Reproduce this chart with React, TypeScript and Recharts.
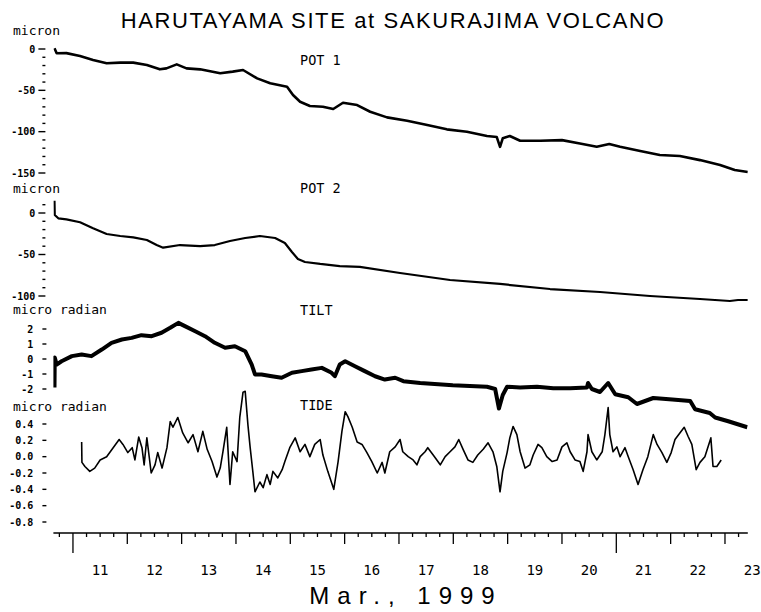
import React from "react";
import { LineChart, Line, XAxis, YAxis } from "recharts";

document.body.style.margin = "0";

const W = 761;
const H = 612;
const X_DOMAIN: [number, number] = [10.64, 23.42];
const PLOT_LEFT = 53.4;
const PLOT_RIGHT = 13.2;
const X_AXIS_H = 60;
const DAY_PX = (W - PLOT_LEFT - PLOT_RIGHT) / (X_DOMAIN[1] - X_DOMAIN[0]);

// days of March 1999
const DAY_LABELS = [11, 12, 13, 14, 15, 16, 17, 18, 19, 20, 21, 22, 23];

// POT 1 (micron)
const POT1_T = [10.66, 10.7, 10.88, 11.13, 11.37, 11.62, 11.87, 12.11, 12.36, 12.6, 12.72, 12.91, 13.09, 13.34, 13.71, 13.94, 14.13, 14.39, 14.63, 14.94, 15.05, 15.18, 15.36, 15.6, 15.79, 15.97, 16.23, 16.47, 16.78, 17.15, 17.52, 17.88, 18.25, 18.62, 18.8, 18.86, 18.91, 19.04, 19.23, 19.6, 20.0, 20.33, 20.64, 20.87, 21.07, 21.44, 21.8, 22.17, 22.54, 22.91, 23.18, 23.42];
const POT1_V = [0.8, -5.2, -5, -8.5, -13.3, -17.3, -16.5, -16.5, -19.4, -24.6, -23.4, -18.6, -23.4, -24.6, -29.4, -27.4, -25.4, -35.5, -41.5, -45.6, -55.7, -63.8, -69, -69.9, -72.6, -65, -67.8, -75.9, -82.7, -86.8, -92, -97.2, -100.1, -105.3, -106.5, -118.3, -108, -105.3, -111, -111, -110.2, -114.2, -118.3, -115, -118.3, -123.5, -128.3, -129.5, -134.4, -140.4, -146.4, -148.9];

// POT 2 (micron)
const POT2_T = [10.66, 10.665, 10.73, 10.88, 11.13, 11.37, 11.62, 11.87, 12.11, 12.36, 12.54, 12.66, 12.97, 13.34, 13.61, 13.89, 14.17, 14.44, 14.72, 14.9, 15.03, 15.14, 15.27, 15.55, 15.91, 16.28, 17.02, 17.94, 18.86, 19.78, 20.7, 21.62, 22.54, 23.09, 23.24, 23.42];
const POT2_V = [14.8, -2.4, -6.4, -7.6, -11.2, -18.5, -25.3, -27.7, -29.3, -32.5, -38.6, -41.8, -38.6, -39.8, -38.6, -33.7, -30.1, -27.7, -30.1, -36.1, -47, -55.4, -59, -61.4, -63.9, -65, -72.3, -80.7, -85.5, -91.6, -95.2, -100, -103.6, -106, -104.8, -104.8];

// TILT (micro radian)
const TILT_T = [10.66, 10.665, 10.7, 10.79, 10.98, 11.16, 11.34, 11.53, 11.71, 11.9, 12.08, 12.26, 12.45, 12.63, 12.79, 12.94, 13.06, 13.25, 13.43, 13.61, 13.8, 13.98, 14.17, 14.29, 14.35, 14.47, 14.66, 14.84, 15.03, 15.21, 15.39, 15.58, 15.76, 15.82, 15.91, 16.01, 16.19, 16.37, 16.56, 16.74, 16.93, 17.08, 17.39, 17.99, 18.62, 18.77, 18.84, 18.91, 18.99, 19.23, 19.54, 19.84, 20.15, 20.46, 20.48, 20.55, 20.7, 20.85, 20.98, 21.22, 21.38, 21.68, 22.03, 22.36, 22.45, 22.72, 22.82, 23.06, 23.41];
const TILT_V = [-1.9, 0.1, -0.37, -0.15, 0.19, 0.3, 0.19, 0.63, 1.08, 1.3, 1.41, 1.59, 1.52, 1.75, 2.08, 2.41, 2.19, 1.85, 1.52, 1.08, 0.75, 0.85, 0.52, -0.37, -1.03, -1.03, -1.15, -1.25, -0.92, -0.81, -0.7, -0.59, -0.92, -1.15, -0.37, -0.15, -0.48, -0.81, -1.15, -1.37, -1.25, -1.48, -1.6, -1.75, -1.85, -2.0, -3.3, -2.4, -1.85, -1.9, -1.85, -1.95, -1.95, -1.9, -1.6, -2.0, -2.2, -1.6, -2.35, -2.55, -3.0, -2.6, -2.7, -2.8, -3.35, -3.6, -3.9, -4.15, -4.55];

// TIDE (micro radian)
const TIDE_T = [11.16, 11.165, 11.22, 11.31, 11.4, 11.5, 11.62, 11.74, 11.85, 11.92, 12.01, 12.09, 12.14, 12.21, 12.27, 12.31, 12.36, 12.44, 12.51, 12.56, 12.64, 12.73, 12.79, 12.84, 12.93, 13.02, 13.12, 13.21, 13.3, 13.39, 13.47, 13.56, 13.65, 13.71, 13.76, 13.83, 13.89, 13.94, 14.02, 14.07, 14.13, 14.17, 14.22, 14.26, 14.31, 14.35, 14.44, 14.5, 14.57, 14.63, 14.68, 14.77, 14.85, 14.9, 14.99, 15.09, 15.18, 15.27, 15.36, 15.45, 15.55, 15.6, 15.69, 15.8, 15.88, 15.95, 16.01, 16.06, 16.14, 16.23, 16.32, 16.41, 16.5, 16.6, 16.69, 16.74, 16.83, 16.93, 17.02, 17.07, 17.17, 17.26, 17.33, 17.39, 17.48, 17.53, 17.63, 17.76, 17.85, 17.94, 18.03, 18.1, 18.18, 18.27, 18.36, 18.45, 18.55, 18.64, 18.73, 18.8, 18.86, 18.91, 18.99, 19.04, 19.1, 19.17, 19.23, 19.32, 19.41, 19.47, 19.56, 19.63, 19.72, 19.82, 19.91, 20.0, 20.09, 20.15, 20.24, 20.33, 20.39, 20.46, 20.48, 20.55, 20.64, 20.74, 20.79, 20.85, 20.88, 20.94, 21.01, 21.07, 21.16, 21.22, 21.31, 21.4, 21.49, 21.58, 21.68, 21.75, 21.84, 21.93, 22.01, 22.08, 22.17, 22.25, 22.32, 22.39, 22.47, 22.54, 22.63, 22.74, 22.78, 22.85, 22.93];
const TIDE_V = [0.18, -0.07, -0.12, -0.18, -0.14, -0.04, 0.0, 0.11, 0.21, 0.15, 0.05, 0.11, -0.04, 0.24, 0.11, -0.1, 0.23, -0.2, -0.1, 0.05, -0.14, 0.11, 0.43, 0.36, 0.48, 0.29, 0.17, 0.27, 0.06, 0.31, 0.09, -0.06, -0.25, -0.14, 0.06, 0.36, -0.34, 0.06, -0.06, 0.48, 0.79, 0.8, 0.39, 0.12, -0.18, -0.43, -0.31, -0.38, -0.22, -0.34, -0.18, -0.26, -0.16, -0.06, 0.11, 0.23, 0.06, 0.15, 0.0, 0.15, 0.21, 0.02, -0.18, -0.4, -0.06, 0.31, 0.55, 0.49, 0.36, 0.18, 0.15, 0.05, -0.06, -0.2, -0.07, -0.2, 0.06, 0.12, 0.21, 0.06, 0.0, -0.04, -0.1, 0.0, 0.06, 0.11, 0.02, -0.1, 0.0, 0.06, 0.12, 0.21, 0.09, -0.04, -0.07, 0.02, 0.09, 0.17, 0.06, -0.12, -0.43, -0.18, 0.05, 0.23, 0.37, 0.27, 0.06, -0.14, -0.1, 0.02, 0.15, 0.11, 0.0, -0.06, -0.04, 0.12, 0.17, 0.06, -0.04, -0.06, -0.18, 0.06, 0.27, 0.06, -0.04, 0.06, 0.27, 0.6, 0.27, 0.06, 0.12, 0.0, 0.11, 0.0, -0.16, -0.34, -0.16, 0.0, 0.27, 0.15, 0.05, -0.07, 0.05, 0.21, 0.29, 0.36, 0.25, 0.15, -0.16, -0.07, 0.0, 0.23, -0.12, -0.12, -0.04];

const POT1_TICKS = [0, -10, -20, -30, -40, -50, -60, -70, -80, -90, -100, -110, -120, -130, -140, -150];
const POT2_TICKS = [10, 0, -10, -20, -30, -40, -50, -60, -70, -80, -90, -100];
const TILT_TICKS = [2, 1, 0, -1, -2];
const TIDE_TICKS = [0.4, 0.2, 0, -0.2, -0.4, -0.6, -0.8];

const QUARTER_TICKS = [10, ...DAY_LABELS]
  .flatMap((d) => [d, d + 0.25, d + 0.5, d + 0.75])
  .filter((d) => d >= X_DOMAIN[0] && d <= X_DOMAIN[1]);

const MONO = "'DejaVu Sans Mono', 'Liberation Mono', monospace";
const SANS = "'Liberation Sans', Arial, sans-serif";

// pixel frame of a panel from two tick anchors [value, y]
function frame(domain: [number, number], a: [number, number], b: [number, number]) {
  const k = (b[1] - a[1]) / (b[0] - a[0]);
  const yOf = (v: number) => a[1] + (v - a[0]) * k;
  return { top: yOf(domain[1]), bottom: yOf(domain[0]) };
}

function zip(t: number[], v: number[]) {
  return t.map((tt, i) => ({ t: tt, v: v[i] }));
}

function PotTick(props: any) {
  const { x, y, payload } = props;
  const v = payload.value;
  const major = v % 50 === 0;
  return (
    <g>
      <line x1={x - (major ? 15 : 11)} x2={x - 8} y1={y} y2={y} stroke="#000" strokeWidth={1.4} />
      {major && (
        <text x={x - 18} y={y} dy={3.6} textAnchor="end" fontFamily={MONO} fontSize={10} fontWeight="bold" fill="#000">
          {v}
        </text>
      )}
    </g>
  );
}

function RadTick(props: any) {
  const { x, y, payload, digits } = props;
  const v = payload.value;
  return (
    <g>
      <line x1={x - 11} x2={x - 7} y1={y} y2={y} stroke="#000" strokeWidth={1.4} />
      <text x={x - 20} y={y} dy={3.6} textAnchor="end" fontFamily={MONO} fontSize={10} fontWeight="bold" fill="#000">
        {v.toFixed(digits)}
      </text>
    </g>
  );
}

function DayTick(props: any) {
  const { x, y, payload } = props;
  const v = payload.value;
  const whole = Number.isInteger(v);
  const len = !whole ? 4 : v === 11 || v === 21 ? 20 : 11;
  return (
    <g>
      <line x1={x} x2={x} y1={y} y2={y + len} stroke="#000" strokeWidth={1.3} />
      {whole && (
        <text x={x + DAY_PX / 2} y={y + 42} textAnchor="middle" fontFamily={MONO} fontSize={14} fill="#000">
          {v}
        </text>
      )}
    </g>
  );
}

interface PanelProps {
  data: { t: number; v: number }[];
  domain: [number, number];
  anchors: [[number, number], [number, number]];
  ticks: number[];
  tick: (p: any) => React.ReactElement;
  strokeWidth: number;
  showX?: boolean;
}

function Panel({ data, domain, anchors, ticks, tick, strokeWidth, showX }: PanelProps) {
  const f = frame(domain, anchors[0], anchors[1]);
  return (
    <div style={{ position: "absolute", left: 0, top: 0 }}>
      <LineChart
        width={W}
        height={H}
        data={data}
        margin={{ top: f.top, right: PLOT_RIGHT, left: 0, bottom: H - f.bottom - (showX ? X_AXIS_H : 0) }}
      >
        <XAxis
          type="number"
          dataKey="t"
          domain={X_DOMAIN}
          allowDataOverflow
          hide={!showX}
          ticks={QUARTER_TICKS}
          interval={0}
          height={X_AXIS_H}
          tickSize={0}
          tickMargin={0}
          tickLine={false}
          axisLine={{ stroke: "#000", strokeWidth: 1.5 }}
          tick={(p: any) => <DayTick {...p} />}
        />
        <YAxis
          type="number"
          domain={domain}
          allowDataOverflow
          ticks={ticks}
          interval={0}
          width={PLOT_LEFT}
          tickSize={0}
          tickMargin={0}
          axisLine={false}
          tickLine={false}
          tick={tick}
        />
        <Line
          type="linear"
          dataKey="v"
          stroke="#000"
          strokeWidth={strokeWidth}
          strokeLinejoin="round"
          dot={false}
          isAnimationActive={false}
        />
      </LineChart>
    </div>
  );
}

export default function App() {
  return (
    <div style={{ position: "relative", width: W, height: H, background: "#fff", overflow: "hidden" }}>
      <Panel
        data={zip(POT1_T, POT1_V)}
        domain={[-160, 6]}
        anchors={[[0, 49], [-150, 173]]}
        ticks={POT1_TICKS}
        tick={(p: any) => <PotTick {...p} />}
        strokeWidth={2.6}
      />
      <Panel
        data={zip(POT2_T, POT2_V)}
        domain={[-112, 20]}
        anchors={[[0, 213], [-100, 296]]}
        ticks={POT2_TICKS}
        tick={(p: any) => <PotTick {...p} />}
        strokeWidth={2.2}
      />
      <Panel
        data={zip(TILT_T, TILT_V)}
        domain={[-5, 2.7]}
        anchors={[[2, 329], [-2, 389]]}
        ticks={TILT_TICKS}
        tick={(p: any) => <RadTick {...p} digits={0} />}
        strokeWidth={4}
      />
      <Panel
        data={zip(TIDE_T, TIDE_V)}
        domain={[-0.935, 0.86]}
        anchors={[[0.4, 424], [-0.8, 522]]}
        ticks={TIDE_TICKS}
        tick={(p: any) => <RadTick {...p} digits={1} />}
        strokeWidth={1.6}
        showX
      />
      <svg width={W} height={H} style={{ position: "absolute", left: 0, top: 0, pointerEvents: "none" }}>
        <text x={393} y={28} textAnchor="middle" fontFamily={SANS} fontSize={22} letterSpacing={1.6} fill="#000">
          HARUTAYAMA SITE at SAKURAJIMA VOLCANO
        </text>
        <text x={13} y={35} fontFamily={MONO} fontSize={13} fill="#000">micron</text>
        <text x={13} y={193} fontFamily={MONO} fontSize={13} fill="#000">micron</text>
        <text x={13} y={314} fontFamily={MONO} fontSize={13} fill="#000">micro radian</text>
        <text x={13} y={411} fontFamily={MONO} fontSize={13} fill="#000">micro radian</text>
        <text x={300} y={65} fontFamily={MONO} fontSize={13.5} fill="#000">POT 1</text>
        <text x={300} y={193} fontFamily={MONO} fontSize={13.5} fill="#000">POT 2</text>
        <text x={300} y={315} fontFamily={MONO} fontSize={13.5} fill="#000">TILT</text>
        <text x={300} y={410} fontFamily={MONO} fontSize={13.5} fill="#000">TIDE</text>
        <text x={406} y={604} textAnchor="middle" fontFamily={SANS} fontSize={24} letterSpacing={8} fill="#000">
          Mar., 1999
        </text>
      </svg>
    </div>
  );
}
